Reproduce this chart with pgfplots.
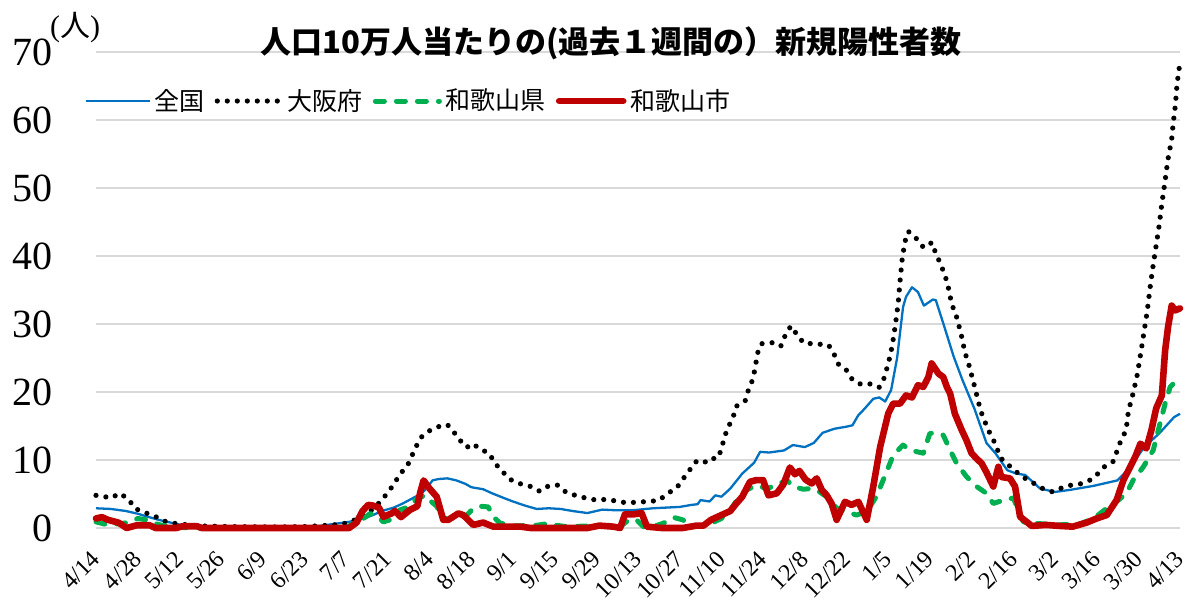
\documentclass[border=0pt]{standalone}
\usepackage{fontspec}
\setmainfont{Liberation Serif}
\newfontfamily\cjk{Noto Sans CJK JP}
\usepackage{pgfplots}
\pgfplotsset{compat=1.18}
\definecolor{cBlue}{HTML}{0070C0}
\definecolor{cGreen}{HTML}{00B050}
\definecolor{cRed}{HTML}{C00000}
\definecolor{cGrid}{HTML}{D9D9D9}
\begin{document}
\begin{tikzpicture}
\begin{axis}[
  scale only axis, width=542pt, height=238pt,
  xmin=0, xmax=364, ymin=0, ymax=70,
  axis line style={draw=none},
  clip=false,
  ytick={0,10,...,70},
  xtick={0,14,...,364},
  xticklabels={4/14,4/28,5/12,5/26,6/9,6/23,7/7,7/21,8/4,8/18,9/1,9/15,9/29,10/13,10/27,11/10,11/24,12/8,12/22,1/5,1/19,2/2,2/16,3/2,3/16,3/30,4/13},
  major tick length=0pt,
  ymajorgrids, grid style={draw=cGrid, line width=1pt},
  /pgf/number format/assume math mode=true,
  yticklabel style={anchor=east, xshift=-18pt, font=\fontsize{20}{20}\selectfont},
  xticklabel style={yshift=-13.5pt, xshift=0pt, rotate=45, anchor=east, inner sep=0pt, font=\fontsize{12}{12}\selectfont},
  legend columns=4,
  legend style={draw=none, fill=none, inner sep=0pt, at={(0,0.897)}, anchor=west, xshift=-6pt,
    font=\cjk\fontsize{12.5}{14}\selectfont,
    /tikz/every even column/.append style={column sep=3pt}},
  legend image code/.code={\draw[#1] (0pt,0pt) -- (32pt,0pt);},
]
\addplot[cBlue, line width=1.15pt, line join=round] coordinates {
(0,2.9) (5,2.8) (10,2.5) (14,2.1) (17,1.7) (21,1.2) (25,0.8) (29,0.4) (33,0.2) (40,0.15) (50,0.1) (60,0.15) (70,0.2) (75,0.3) (80,0.6) (85,0.9) (90,1.4) (93,1.9) (96,2.5) (100,3.0) (103,3.6) (106,4.3) (109,5.0) (111,5.8) (113,7.0) (115,7.2) (118,7.3) (121,7.0) (124,6.5) (126,6.0) (130,5.7) (133,5.1) (137,4.4) (140,3.9) (144,3.3) (148,2.8) (152,2.9) (156,2.8) (160,2.5) (165,2.2) (170,2.7) (175,2.6) (180,2.6) (187,2.9) (196,3.1) (200,3.4) (202,3.5) (203,4.1) (206,3.9) (208,4.8) (210,4.6) (213,5.8) (217,8.0) (221,9.6) (223,11.2) (226,11.1) (231,11.4) (234,12.2) (238,11.9) (241,12.5) (244,14.0) (248,14.6) (252,14.9) (254,15.1) (256,16.6) (258,17.5) (261,19.0) (263,19.2) (265,18.6) (267,20.3) (269,25.0) (271,32.5) (272,34.0) (274,35.4) (276,34.7) (278,32.7) (281,33.6) (282,33.5) (284.5,30.1) (288,25.2) (291,21.7) (295,17.5) (299,12.5) (302,11.0) (306,8.5) (309,8.0) (312,7.8) (317,5.8) (322,5.3) (327,5.6) (335,6.2) (343,7.0) (347,8.8) (352,11.9) (357,13.9) (362,16.3) (364,16.8)
};
\addlegendentry{全国}
\addplot[black, line width=2.6pt, line cap=round, dash pattern=on 0pt off 5pt] coordinates {
(0,4.8) (2,4.7) (5,4.4) (8,5.1) (11,4.2) (13,2.9) (16,2.3) (19,1.9) (23,1.0) (26,0.7) (30,0.5) (35,0.3) (45,0.2) (60,0.15) (70,0.2) (76,0.35) (81,0.5) (84,0.7) (87,1.2) (90,1.8) (93,2.8) (96,4.1) (100,6.4) (102,7.9) (104.5,9.1) (107.5,12.0) (109.5,13.5) (112,14.3) (115,14.9) (118,15.2) (120,14.2) (122,13.0) (124.5,11.85) (126.5,12.4) (129,11.6) (132,11.0) (134,9.5) (136.5,8.3) (139,7.15) (142.5,6.5) (146,6.1) (149,5.4) (152,6.2) (155,6.3) (158,5.2) (161,4.8) (164,4.45) (168,4.1) (171,4.2) (175,3.95) (178,3.7) (182,3.8) (185.5,3.9) (189,4.05) (192,5.1) (195,5.9) (197,7.15) (199,8.3) (201,9.6) (202.5,10.0) (205.5,9.6) (208,10.4) (209,10.4) (210.2,11.9) (211,13.4) (212.5,15.0) (214,16.4) (215,17.9) (218,18.7) (219,20.2) (220.3,21.6) (221.2,23.2) (221.8,24.8) (222.5,26.4) (223.5,27.1) (226,27.2) (228.3,27.3) (230,26.8) (231.4,28.3) (233.3,29.7) (235.3,28.5) (237.6,27.2) (240.6,27.1) (243.7,27.0) (246,26.9) (247.8,25.6) (249.3,24.1) (252,23.2) (254,21.8) (257,21.1) (260.5,21.2) (263,20.7) (264.7,22.1) (265.7,23.7) (266.6,25.2) (267.4,26.9) (268.4,29.8) (269.4,33.2) (270,36.4) (270.7,39.5) (271.3,41.2) (272,42.8) (272.8,43.6) (275.4,42.6) (277.6,41.4) (279,41.3) (280.6,42.0) (282,40.4) (283.4,39.0) (284.7,37.6) (285.9,36.0) (287.3,33.0) (289,31.0) (290.5,28.5) (291.8,25.8) (293.3,23.7) (295.2,20.5) (297,17.3) (299.5,14.5) (301.3,13.0) (302.6,11.6) (304,10.2) (306.7,9.15) (309.5,8.1) (312,7.3) (314.8,6.6) (317.9,5.8) (321.3,5.3) (324.3,5.9) (327.4,6.3) (330.6,6.5) (333.8,7.05) (336,7.8) (338.6,9.0) (341.6,9.8) (344,12.7) (345.9,14.4) (346.7,17.3) (347.8,19.0) (349.5,22.2) (350.7,25.4) (352,29.1) (353,31.9) (353.9,35.2) (354.8,38.1) (356,41.6) (357,44.5) (357.9,47.7) (359,51.1) (359.9,54.1) (361.2,57.2) (361.7,59.5) (362.4,62.0) (363,65.3) (364,68.5)
};
\addlegendentry{大阪府}
\addplot[cGreen, line width=2.5pt, line cap=round, line join=round, dash pattern=on 4.5pt off 6pt] coordinates {
(0,0.9) (4,0.45) (9,0.7) (11,0.8) (14,1.4) (17,1.2) (21,0.5) (25,0.2) (30,0.05) (40,0) (84,0) (86.4,0.7) (89.8,1.4) (92,2.1) (94,1.9) (96.5,0.9) (99.5,1.3) (102,2.65) (104.3,3.0) (108.2,4.4) (110.5,4.8) (112,4.1) (114.4,3.2) (116,1.9) (117.8,1.2) (121,1.65) (124,1.65) (126.7,2.9) (129,3.2) (131.7,3.1) (133.4,1.65) (135.7,0.7) (141,0.3) (148,0.4) (151,0.6) (158,0.2) (166,0.3) (171.5,0.3) (176,0.2) (179,1.2) (181.5,1.2) (183.8,0.2) (186,0.05) (190.5,0.7) (194,1.55) (197,1.2) (199.5,0.45) (203,0.3) (206.6,0.7) (210,1.4) (213,2.65) (215.7,4.4) (218.5,5.6) (221.8,6.3) (225.2,5.8) (228.6,6.3) (231.9,7.05) (234.2,6.1) (237.5,5.7) (240,5.8) (242,5.6) (245.3,4.6) (248.7,2.9) (252,2.4) (255.4,1.9) (258.8,2.4) (262,4.6) (265.5,8.3) (267.7,10.7) (271,12.2) (273.3,11.45) (277.8,11.0) (280,13.9) (282.3,14.0) (284.5,13.65) (286.8,11.45) (289,9.5) (292.3,7.55) (295.7,6.1) (299,5.1) (301.3,3.6) (304.7,4.1) (308,4.4) (310.3,2.15) (311.4,0.9) (314.8,0.7) (323,0.45) (330.4,0.6) (335,1.4) (339.4,2.9) (343.3,4.1) (346,5.1) (348.3,7.05) (351.7,9.0) (355,11.45) (357.3,15.4) (359,18.3) (360.7,20.75) (362.4,21.5) (364,21.0)
};
\addlegendentry{和歌山県}
\addplot[cRed, line width=3.3pt, line join=round, line cap=round] coordinates {
(0,1.4) (2,1.6) (4,1.2) (7.5,0.8) (10.3,0) (13.7,0.4) (18,0.4) (20,0) (27,0) (29,0.25) (34,0.25) (35.5,0) (85,0) (87.5,0.8) (89.5,2.5) (91.4,3.4) (93,3.3) (95,3.0) (96.5,1.65) (99.3,2.15) (100.4,2.5) (102.4,1.6) (105.4,2.65) (107.9,3.2) (108.8,5.1) (110,7.0) (112,5.8) (114.4,4.6) (116.6,1.2) (118.3,1.2) (121.7,2.15) (123.3,1.9) (126.7,0.45) (130,0.8) (133.4,0.2) (142.4,0.2) (146,0) (165,0) (169,0.35) (173.7,0.2) (176,0) (177.6,2.0) (180.4,2.0) (183.2,2.2) (185,0.2) (190,0) (197,0) (201.7,0.35) (204,0.35) (206.5,1.2) (210,1.9) (213,2.5) (215,3.6) (217,4.6) (219.6,6.8) (221.8,7.05) (224,7.05) (225.8,4.8) (228.6,5.1) (230.8,6.4) (233,8.9) (234.7,7.9) (236.2,8.4) (238.3,7.1) (240.3,6.55) (242,7.3) (243.7,5.6) (245.3,4.85) (247,3.6) (248.7,1.2) (251.5,3.85) (253.7,3.4) (256,3.85) (258.8,1.2) (261,6.1) (263.3,11.9) (266,16.8) (267.7,18.3) (270,18.3) (272,19.5) (274,19.2) (276,21.0) (277.8,20.75) (279.5,22.2) (280.6,24.2) (282.9,22.7) (284.5,22.2) (285.7,20.75) (286.8,19.8) (288.4,16.8) (290.7,14.4) (292.3,12.9) (294,11.0) (295.7,10.2) (297.4,9.5) (299,8.2) (301.3,6.1) (303,9.0) (304,7.5) (306.9,7.3) (308.6,6.1) (310.3,1.65) (312.5,0.9) (314.2,0.3) (319,0.45) (323.7,0.3) (328,0.2) (332.7,0.8) (336,1.4) (339.4,1.9) (342.7,4.1) (345,7.05) (347,8.75) (349,10.5) (350.7,12.4) (352.7,11.7) (354.4,14.4) (356,17.6) (357.9,19.5) (359,26.1) (360,29.6) (361.2,32.7) (362.4,32.0) (364,32.3)
};
\addlegendentry{和歌山市}
\node[font=\cjk\bfseries\fontsize{15.5}{16}\selectfont, anchor=center] at (axis cs:172.9,71.3) {人口10万人当たりの(過去１週間の）新規陽性者数};
\node[anchor=center, inner sep=0pt] at (axis cs:-7,73.6) {\fontsize{15}{15}\selectfont(\cjk 人\normalfont)};
\end{axis}
\pgfresetboundingbox
\path[use as bounding box] (-48pt,-37.5pt) rectangle (545pt,264pt);
\end{tikzpicture}
\end{document}
